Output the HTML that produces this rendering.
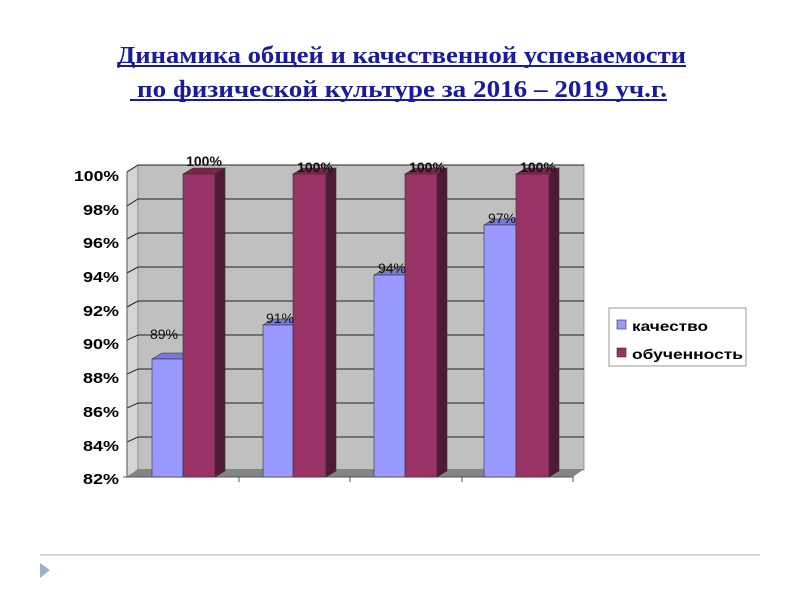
<!DOCTYPE html>
<html><head><meta charset="utf-8"><style>
body{margin:0;background:#fff;width:800px;height:600px;overflow:hidden;}
</style></head><body>
<svg width="800" height="600" xmlns="http://www.w3.org/2000/svg">
<g font-family="Liberation Serif, serif" font-weight="bold" font-size="24" fill="#1a1a9a">
<text x="117" y="63" textLength="569" lengthAdjust="spacingAndGlyphs">Динамика общей и качественной успеваемости</text>
<text x="137" y="97" textLength="530" lengthAdjust="spacingAndGlyphs">по  физической культуре за  2016 – 2019 уч.г.</text>
</g>
<line x1="117" y1="66" x2="686" y2="66" stroke="#1a1a9a" stroke-width="2"/>
<line x1="130" y1="100" x2="667" y2="100" stroke="#1a1a9a" stroke-width="2"/>
<!-- side wall -->
<polygon points="127,172 138,165 138,470 127,477" fill="#d4d4d4" stroke="#888" stroke-width="0.8"/>
<!-- back wall -->
<rect x="138" y="165" width="446" height="305" fill="#c0c0c0" stroke="#888" stroke-width="0.8"/>
<g stroke="#222" stroke-width="1">
<polyline points="127,172 138,165 584,165" fill="none"/>
<polyline points="127,206 138,199 584,199" fill="none"/>
<polyline points="127,239 138,233 584,233" fill="none"/>
<polyline points="127,273 138,267 584,267" fill="none"/>
<polyline points="127,307 138,301 584,301" fill="none"/>
<polyline points="127,340 138,335 584,335" fill="none"/>
<polyline points="127,374 138,369 584,369" fill="none"/>
<polyline points="127,408 138,403 584,403" fill="none"/>
<polyline points="127,442 138,437 584,437" fill="none"/>
</g>
<!-- floor -->
<polygon points="127,477 138,469 584,469 573,477" fill="#858585"/>
<line x1="127" y1="172" x2="127" y2="477" stroke="#555"/>
<line x1="127" y1="477" x2="573" y2="477" stroke="#555"/>
<g stroke="#555"><line x1="123" y1="477" x2="127" y2="477"/><line x1="239" y1="477" x2="239" y2="482"/><line x1="350" y1="477" x2="350" y2="482"/><line x1="462" y1="477" x2="462" y2="482"/><line x1="573" y1="477" x2="573" y2="482"/></g>
<g font-family="Liberation Sans, sans-serif" font-weight="bold" font-size="15" fill="#000">
<text x="74" y="181" textLength="45" lengthAdjust="spacingAndGlyphs">100%</text>
<text x="83" y="215" textLength="36" lengthAdjust="spacingAndGlyphs">98%</text>
<text x="83" y="248" textLength="36" lengthAdjust="spacingAndGlyphs">96%</text>
<text x="83" y="282" textLength="36" lengthAdjust="spacingAndGlyphs">94%</text>
<text x="83" y="316" textLength="36" lengthAdjust="spacingAndGlyphs">92%</text>
<text x="83" y="349" textLength="36" lengthAdjust="spacingAndGlyphs">90%</text>
<text x="83" y="383" textLength="36" lengthAdjust="spacingAndGlyphs">88%</text>
<text x="83" y="417" textLength="36" lengthAdjust="spacingAndGlyphs">86%</text>
<text x="83" y="451" textLength="36" lengthAdjust="spacingAndGlyphs">84%</text>
<text x="83" y="484" textLength="36" lengthAdjust="spacingAndGlyphs">82%</text>
</g>
<!-- bars -->
<g stroke="#333" stroke-width="0.6">
<polygon points="152,359 162,353 193,353 183,359" fill="#7777dd"/>
<rect x="152" y="359" width="31" height="118" fill="#9999ff"/>
<polygon points="215,174 225,168 225,471 215,477" fill="#4f1a35"/>
<polygon points="183,174 193,168 225,168 215,174" fill="#7a2550"/>
<rect x="183" y="174" width="32" height="303" fill="#993366"/>
<polygon points="263,325 273,319 303,319 293,325" fill="#7777dd"/>
<rect x="263" y="325" width="30" height="152" fill="#9999ff"/>
<polygon points="326,174 336,168 336,471 326,477" fill="#4f1a35"/>
<polygon points="293,174 303,168 336,168 326,174" fill="#7a2550"/>
<rect x="293" y="174" width="33" height="303" fill="#993366"/>
<polygon points="374,275 384,269 415,269 405,275" fill="#7777dd"/>
<rect x="374" y="275" width="31" height="202" fill="#9999ff"/>
<polygon points="437,174 447,168 447,471 437,477" fill="#4f1a35"/>
<polygon points="405,174 415,168 447,168 437,174" fill="#7a2550"/>
<rect x="405" y="174" width="32" height="303" fill="#993366"/>
<polygon points="484,225 494,219 526,219 516,225" fill="#7777dd"/>
<rect x="484" y="225" width="32" height="252" fill="#9999ff"/>
<polygon points="549,174 559,168 559,471 549,477" fill="#4f1a35"/>
<polygon points="516,174 526,168 559,168 549,174" fill="#7a2550"/>
<rect x="516" y="174" width="33" height="303" fill="#993366"/>
</g>
<g font-family="Liberation Sans, sans-serif" font-size="14" fill="#111" text-anchor="middle">
<text x="164" y="339">89%</text><text x="280" y="323">91%</text><text x="392" y="273">94%</text><text x="502" y="223">97%</text>
</g>
<g font-family="Liberation Sans, sans-serif" font-size="14" font-weight="bold" fill="#111" text-anchor="middle">
<text x="204" y="166">100%</text><text x="315" y="172">100%</text><text x="427" y="172">100%</text><text x="538" y="172">100%</text>
</g>
<!-- legend -->
<rect x="609" y="308" width="137" height="58" fill="#fff" stroke="#999"/>
<rect x="617" y="320" width="9" height="9" fill="#9999ff" stroke="#333" stroke-width="0.6"/>
<rect x="617" y="348" width="9" height="9" fill="#993366" stroke="#333" stroke-width="0.6"/>
<g font-family="Liberation Sans, sans-serif" font-weight="bold" font-size="14" fill="#000">
<text x="632" y="331" textLength="76" lengthAdjust="spacingAndGlyphs">качество</text>
<text x="632" y="359" textLength="111" lengthAdjust="spacingAndGlyphs">обученность</text>
</g>
<line x1="40" y1="555" x2="760" y2="555" stroke="#d0d8e0" stroke-width="2"/>
<polygon points="40,563 50,570 40,578" fill="#9ab4cc"/>
</svg>
</body></html>
